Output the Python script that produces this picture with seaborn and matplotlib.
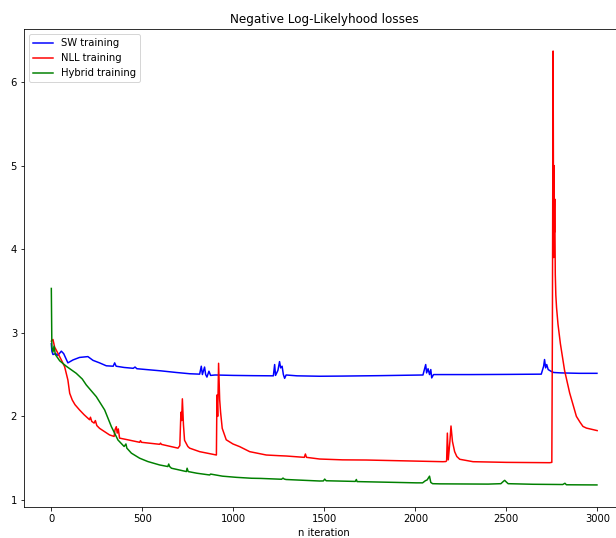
import pandas as pd
import seaborn as sns
import matplotlib
matplotlib.use("Agg")
import matplotlib.pyplot as plt

# values
sw_iter = [0, 3, 9, 24, 36, 55, 68, 91, 119, 155, 201, 229, 265, 302, 340, 348, 356,
           400, 450, 460, 470, 522, 600, 687, 760, 815, 824, 830, 842, 848, 855, 866,
           875, 900, 1000, 1108, 1220, 1227, 1232, 1245, 1254, 1260, 1268, 1275, 1282,
           1290, 1350, 1474, 1600, 1800, 2042, 2057, 2062, 2070, 2078, 2085, 2090,
           2100, 2134, 2300, 2500, 2692, 2705, 2710, 2716, 2722, 2730, 2745, 2760,
           2800, 2900, 2998]
sw_loss = [2.87, 2.78, 2.74, 2.75, 2.73, 2.78, 2.75, 2.64, 2.675, 2.705, 2.715, 2.67,
           2.64, 2.605, 2.60, 2.64, 2.60, 2.585, 2.575, 2.59, 2.57, 2.56, 2.545, 2.525,
           2.51, 2.505, 2.60, 2.50, 2.59, 2.50, 2.47, 2.54, 2.49, 2.495, 2.49, 2.487,
           2.485, 2.62, 2.49, 2.55, 2.655, 2.58, 2.60, 2.50, 2.455, 2.495, 2.485, 2.48,
           2.482, 2.487, 2.495, 2.62, 2.52, 2.57, 2.50, 2.56, 2.46, 2.50, 2.50, 2.50,
           2.502, 2.505, 2.60, 2.68, 2.58, 2.62, 2.56, 2.54, 2.525, 2.52, 2.515, 2.515]

nll_iter = [0, 9, 18, 36, 55, 73, 91, 101, 115, 130, 155, 180, 210, 215, 222, 235, 242,
            250, 265, 320, 345, 350, 357, 362, 368, 375, 420, 485, 490, 495, 595, 600,
            605, 696, 706, 712, 716, 720, 726, 732, 750, 760, 815, 907, 910, 914, 919,
            925, 930, 939, 961, 998, 1035, 1090, 1181, 1250, 1291, 1390, 1396, 1402,
            1474, 1600, 1731, 1900, 2152, 2168, 2172, 2176, 2181, 2190, 2196, 2204,
            2216, 2228, 2244, 2317, 2500, 2738, 2750, 2753, 2757, 2760, 2762, 2764,
            2766, 2769, 2772, 2776, 2784, 2797, 2820, 2848, 2885, 2905, 2921, 2940,
            2960, 2999]
nll_loss = [2.90, 2.92, 2.83, 2.755, 2.675, 2.595, 2.435, 2.276, 2.196, 2.14, 2.077,
            2.02, 1.96, 1.99, 1.94, 1.92, 1.95, 1.89, 1.857, 1.778, 1.76, 1.84, 1.877,
            1.80, 1.85, 1.74, 1.72, 1.69, 1.71, 1.69, 1.666, 1.68, 1.665, 1.62, 1.65,
            2.05, 1.95, 2.21, 1.90, 1.714, 1.64, 1.62, 1.578, 1.538, 2.256, 2.0, 2.635,
            2.20, 2.05, 1.857, 1.72, 1.67, 1.638, 1.578, 1.538, 1.53, 1.526, 1.51,
            1.55, 1.51, 1.49, 1.48, 1.478, 1.47, 1.458, 1.46, 1.47, 1.80, 1.48, 1.70,
            1.885, 1.70, 1.578, 1.52, 1.487, 1.458, 1.45, 1.446, 1.45, 2.95, 6.37, 3.9,
            5.0, 4.2, 4.6, 3.7, 3.45, 3.3, 3.1, 2.87, 2.55, 2.28, 2.0, 1.93, 1.88, 1.86,
            1.85, 1.83]

hyb_iter = [0, 3, 9, 15, 22, 46, 82, 137, 170, 192, 247, 293, 330, 366, 400, 410, 415,
            440, 485, 530, 595, 640, 645, 650, 660, 742, 746, 752, 800, 870, 875, 940,
            1016, 1100, 1150, 1265, 1273, 1280, 1290, 1474, 1495, 1502, 1510, 1670,
            1676, 1680, 1900, 2005, 2040, 2055, 2065, 2078, 2085, 2095, 2134, 2400,
            2470, 2485, 2491, 2500, 2510, 2646, 2810, 2822, 2830, 2998]
hyb_loss = [3.53, 2.83, 2.77, 2.84, 2.74, 2.665, 2.60, 2.515, 2.447, 2.376, 2.236,
            2.077, 1.877, 1.718, 1.64, 1.67, 1.62, 1.56, 1.50, 1.46, 1.419, 1.40, 1.43,
            1.40, 1.38, 1.34, 1.38, 1.34, 1.32, 1.299, 1.31, 1.285, 1.271, 1.26, 1.258,
            1.248, 1.262, 1.25, 1.245, 1.227, 1.228, 1.25, 1.23, 1.222, 1.245, 1.22,
            1.21, 1.205, 1.205, 1.23, 1.24, 1.285, 1.21, 1.195, 1.193, 1.19, 1.195,
            1.225, 1.235, 1.215, 1.195, 1.188, 1.185, 1.20, 1.182, 1.18]

df = pd.concat([
    pd.DataFrame({"iteration": sw_iter, "loss": sw_loss, "run": "SW training"}),
    pd.DataFrame({"iteration": nll_iter, "loss": nll_loss, "run": "NLL training"}),
    pd.DataFrame({"iteration": hyb_iter, "loss": hyb_loss, "run": "Hybrid training"}),
])

fig = plt.figure(figsize=(616 / 72, 538 / 72), dpi=72)
ax = fig.add_axes([0.039, 0.0576, 0.975, 0.888])
sns.lineplot(data=df, x="iteration", y="loss", hue="run", estimator=None,
             palette=["blue", "red", "green"], linewidth=1.5, ax=ax)
ax.set_xlim(-150, 3150)
ax.set_ylim(0.916, 6.63)
ax.set_xlabel("n iteration")
ax.set_ylabel("")
ax.set_title("Negative Log-Likelyhood losses")
sns.move_legend(ax, "upper left", title=None)
fig.savefig("out.png", dpi=72)
